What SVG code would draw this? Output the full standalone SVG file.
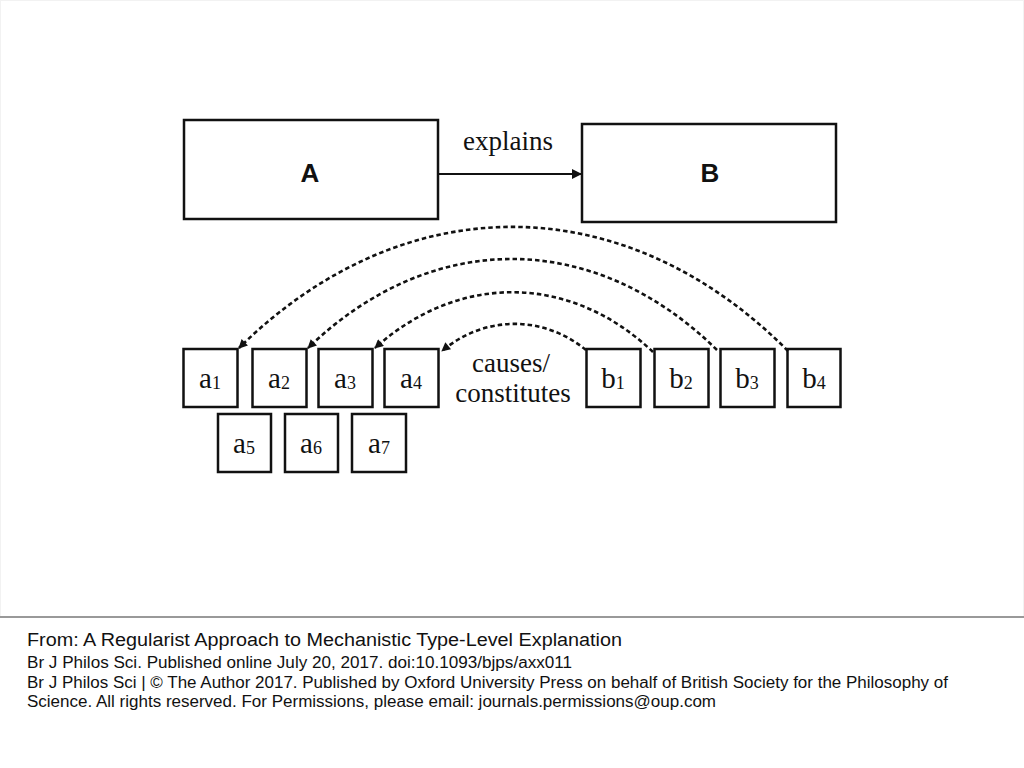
<svg xmlns="http://www.w3.org/2000/svg" width="1024" height="768" viewBox="0 0 1024 768">
<defs>
<style>
.box{fill:#fff;stroke:#111;stroke-width:2.5}
.big{font-family:"Liberation Sans",Arial,sans-serif;font-weight:bold;font-size:26px;fill:#111;text-anchor:middle}
.lab{font-family:"Liberation Serif","Times New Roman",serif;font-size:29px;fill:#111;text-anchor:middle}
.sub{font-size:18px}
.edge{font-family:"Liberation Serif","Times New Roman",serif;font-size:27px;fill:#111;text-anchor:middle}
.arc{fill:none;stroke:#111;stroke-width:2.6;stroke-dasharray:4.5 3}
.foot{font-family:"Liberation Sans",Arial,sans-serif;fill:#111}
</style>
<marker id="ah" viewBox="0 0 10 10" refX="9" refY="5" markerWidth="10" markerHeight="9" markerUnits="userSpaceOnUse" orient="auto">
<path d="M0,0 L10,5 L0,10 z" fill="#111"/>
</marker>
<marker id="ah2" viewBox="0 0 10 10" refX="9" refY="5" markerWidth="11" markerHeight="10" markerUnits="userSpaceOnUse" orient="auto">
<path d="M0,0 L10,5 L0,10 z" fill="#111"/>
</marker>
</defs>
<rect x="0" y="0" width="1024" height="768" fill="#fff"/>
<rect x="0.5" y="0.5" width="1023" height="616" fill="none" stroke="#f2f2f2" stroke-width="1"/>
<line x1="0" y1="617" x2="1024" y2="617" stroke="#999" stroke-width="2"/>

<g id="node-A"><rect class="box" x="184" y="120" width="254" height="99"/><text class="big" x="310" y="182">A</text></g>
<g id="node-B"><rect class="box" x="582" y="124" width="254" height="98"/><text class="big" x="710" y="182">B</text></g>

<g id="node-a1"><rect class="box" x="183.5" y="349" width="54" height="58"/><text class="lab" x="210" y="388">a<tspan class="sub" dy="1">1</tspan></text></g>
<g id="node-a2"><rect class="box" x="252.5" y="349" width="54" height="58"/><text class="lab" x="279" y="388">a<tspan class="sub" dy="1">2</tspan></text></g>
<g id="node-a3"><rect class="box" x="318.5" y="349" width="54" height="58"/><text class="lab" x="345" y="388">a<tspan class="sub" dy="1">3</tspan></text></g>
<g id="node-a4"><rect class="box" x="384.5" y="349" width="54" height="58"/><text class="lab" x="411" y="388">a<tspan class="sub" dy="1">4</tspan></text></g>
<g id="node-a5"><rect class="box" x="218" y="414" width="53" height="58"/><text class="lab" x="244" y="453">a<tspan class="sub" dy="1">5</tspan></text></g>
<g id="node-a6"><rect class="box" x="285" y="414" width="53" height="58"/><text class="lab" x="311" y="453">a<tspan class="sub" dy="1">6</tspan></text></g>
<g id="node-a7"><rect class="box" x="352" y="414" width="54" height="58"/><text class="lab" x="379" y="453">a<tspan class="sub" dy="1">7</tspan></text></g>
<g id="node-b1"><rect class="box" x="586.5" y="349" width="54" height="58"/><text class="lab" x="613" y="388">b<tspan class="sub" dy="1">1</tspan></text></g>
<g id="node-b2"><rect class="box" x="654.5" y="349" width="54" height="58"/><text class="lab" x="681" y="388">b<tspan class="sub" dy="1">2</tspan></text></g>
<g id="node-b3"><rect class="box" x="720.5" y="349" width="54" height="58"/><text class="lab" x="747" y="388">b<tspan class="sub" dy="1">3</tspan></text></g>
<g id="node-b4"><rect class="box" x="787.5" y="349" width="53" height="58"/><text class="lab" x="814" y="388">b<tspan class="sub" dy="1">4</tspan></text></g>

<g id="connectors">
<line x1="438" y1="174" x2="581" y2="174" stroke="#111" stroke-width="2" marker-end="url(#ah2)"/>
<text class="edge" x="508" y="150">explains</text>
<path class="arc" d="M788,351 C624,186 403,186 239,348" marker-end="url(#ah)"/>
<path class="arc" d="M717,350 C594,229 431,229 308,348" marker-end="url(#ah)"/>
<path class="arc" d="M653,352 C570,273 458,273 375,348" marker-end="url(#ah)"/>
<path class="arc" d="M586,350 C543,315 485,315 442,351" marker-end="url(#ah)"/>
<text class="edge" x="511" y="372">causes/</text>
<text class="edge" x="513" y="402">constitutes</text>
</g>

<g id="footer">
<text class="foot" x="27" y="646" font-size="18" textLength="595" lengthAdjust="spacingAndGlyphs">From: A Regularist Approach to Mechanistic Type-Level Explanation</text>
<text class="foot" x="27" y="668" font-size="16" textLength="545" lengthAdjust="spacingAndGlyphs">Br J Philos Sci. Published online  July 20, 2017. doi:10.1093/bjps/axx011</text>
<text class="foot" x="27" y="688" font-size="16" textLength="921" lengthAdjust="spacingAndGlyphs">Br J Philos Sci | © The Author 2017. Published by Oxford University Press on behalf of British Society for the Philosophy of</text>
<text class="foot" x="27" y="707" font-size="16" textLength="689" lengthAdjust="spacingAndGlyphs">Science. All rights reserved. For Permissions, please email: journals.permissions@oup.com</text>
</g>
</svg>
